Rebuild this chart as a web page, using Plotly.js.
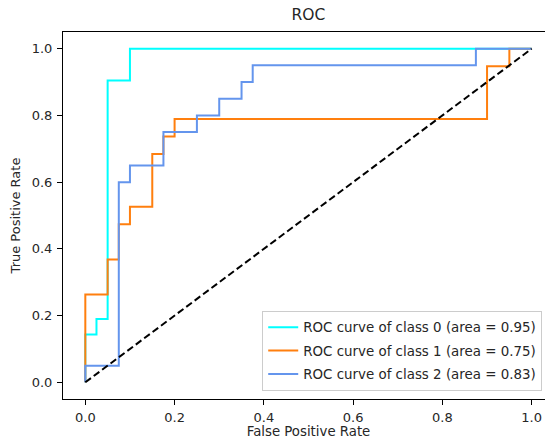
<!DOCTYPE html>
<html>
<head>
<meta charset="utf-8">
<script src="https://cdn.plot.ly/plotly-3.0.1.min.js"></script>
<style>html,body{margin:0;padding:0;overflow:hidden;background:#fff}</style>
</head>
<body>
<div id="chart"></div>
<script>
// Class 0
const fpr0 = [0, 0, 0.025, 0.025, 0.05, 0.05, 0.1, 0.1, 1.0];
const tpr0 = [0, 0.143, 0.143, 0.190, 0.190, 0.905, 0.905, 1.0, 1.0];
// Class 1
const fpr1 = [0, 0, 0.05, 0.05, 0.075, 0.075, 0.1, 0.1, 0.15, 0.15, 0.175, 0.175, 0.2, 0.2, 0.9, 0.9, 0.95, 0.95, 1.0];
const tpr1 = [0, 0.263, 0.263, 0.368, 0.368, 0.474, 0.474, 0.526, 0.526, 0.684, 0.684, 0.737, 0.737, 0.789, 0.789, 0.947, 0.947, 1.0, 1.0];
// Class 2
const fpr2 = [0, 0, 0.075, 0.075, 0.1, 0.1, 0.175, 0.175, 0.25, 0.25, 0.3, 0.3, 0.35, 0.35, 0.375, 0.375, 0.875, 0.875, 1.0];
const tpr2 = [0, 0.05, 0.05, 0.6, 0.6, 0.65, 0.65, 0.75, 0.75, 0.8, 0.8, 0.85, 0.85, 0.9, 0.9, 0.95, 0.95, 1.0, 1.0];
const names = ["ROC curve of class 0 (area = 0.95)", "ROC curve of class 1 (area = 0.75)", "ROC curve of class 2 (area = 0.83)"];
const colors = ["#00ffff", "#ff7f0e", "#6495ed"];
const diagX = [0, 1];
const diagY = [0, 1];

const fam = "DejaVu Sans, sans-serif";
const txt = "#262626";
const series = [[fpr0, tpr0], [fpr1, tpr1], [fpr2, tpr2]];
const traces = series.map((s, i) => ({
  x: s[0], y: s[1], type: "scatter", mode: "lines", name: names[i],
  legendgroup: "g" + i,
  line: {color: colors[i], width: 2}
}));
traces.push({x: diagX, y: diagY, type: "scatter", mode: "lines", showlegend: false,
  line: {color: "black", width: 2, dash: "7px,3.5px"}});

const axisBase = {
  showline: true, mirror: true, linecolor: "black", linewidth: 1,
  ticks: "outside", ticklen: 5, tickcolor: "black", tickwidth: 1,
  showgrid: false, zeroline: false,
  tickfont: {family: fam, size: 13, color: txt},
  tickformat: ".1f", dtick: 0.2, tick0: 0
};
const layout = {
  width: 556, height: 439,
  margin: {l: 63, r: 2, t: 32, b: 40},
  paper_bgcolor: "white", plot_bgcolor: "white",
  title: {text: "ROC", font: {family: fam, size: 15.5, color: txt}, x: 0.5, xref: "paper", y: 0.966, yref: "container", yanchor: "middle"},
  xaxis: Object.assign({}, axisBase, {range: [-0.05, 1.05], ticklabelstandoff: 1,
    title: {text: "False Positive Rate", font: {family: fam, size: 13.3, color: txt}, standoff: 10}}),
  yaxis: Object.assign({}, axisBase, {range: [-0.05, 1.05], ticklabelstandoff: 2,
    title: {text: "True Positive Rate", font: {family: fam, size: 13, color: txt}, standoff: 8}}),
  legend: {x: 0.976, xanchor: "right", y: 0.022, yanchor: "bottom",
    traceorder: "grouped", tracegroupgap: 3,
    bgcolor: "rgba(255,255,255,0.8)", bordercolor: "#cccccc", borderwidth: 1,
    font: {family: fam, size: 13.4, color: txt}},
  showlegend: true
};
Plotly.newPlot("chart", traces, layout, {displayModeBar: false, staticPlot: true});
</script>
</body>
</html>
